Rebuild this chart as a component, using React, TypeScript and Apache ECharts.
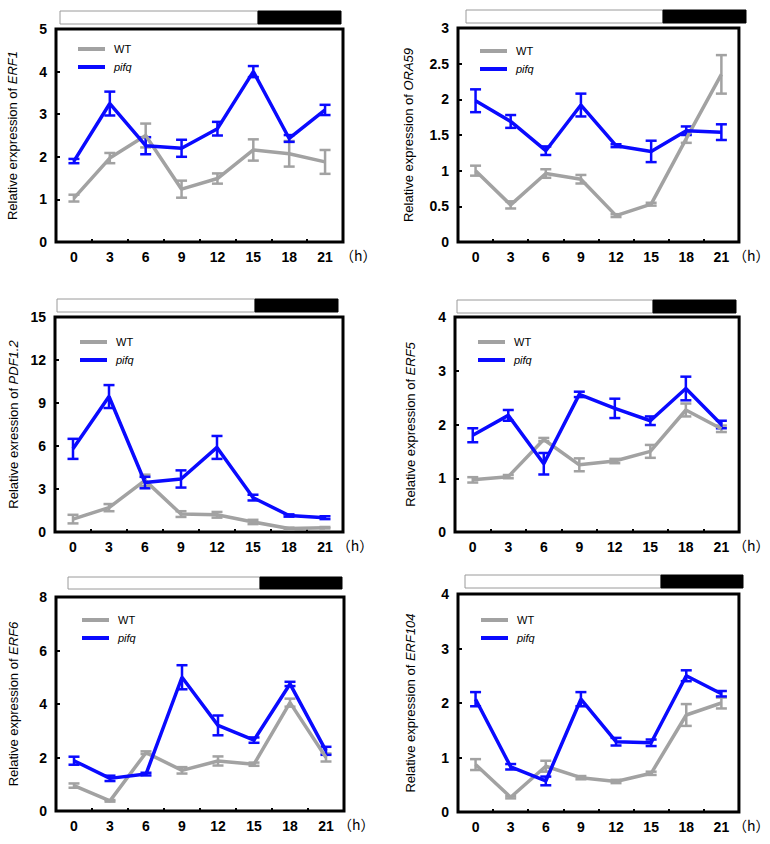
import React, { useEffect, useRef } from "react";
import * as echarts from "echarts";

const hours = ["0", "3", "6", "9", "12", "15", "18", "21"];

// ERF1
const erf1WT = [1.03, 1.97, 2.5, 1.24, 1.49, 2.16, 2.07, 1.88];
const erf1WTErr = [0.08, 0.12, 0.28, 0.2, 0.12, 0.25, 0.3, 0.28];
const erf1Pifq = [1.9, 3.25, 2.26, 2.2, 2.66, 4.0, 2.43, 3.1];
const erf1PifqErr = [0.05, 0.28, 0.2, 0.2, 0.16, 0.13, 0.08, 0.12];

// ORA59
const ora59WT = [1.0, 0.52, 0.96, 0.88, 0.37, 0.53, 1.45, 2.35];
const ora59WTErr = [0.07, 0.05, 0.06, 0.06, 0.02, 0.02, 0.06, 0.27];
const ora59Pifq = [1.98, 1.69, 1.28, 1.92, 1.35, 1.27, 1.56, 1.54];
const ora59PifqErr = [0.16, 0.09, 0.06, 0.16, 0.02, 0.15, 0.06, 0.11];

// PDF1.2
const pdfWT = [0.9, 1.7, 3.6, 1.25, 1.2, 0.7, 0.25, 0.3];
const pdfWTErr = [0.3, 0.25, 0.4, 0.2, 0.2, 0.15, 0.05, 0.05];
const pdfPifq = [5.8, 9.45, 3.45, 3.7, 5.9, 2.4, 1.15, 1.0];
const pdfPifqErr = [0.7, 0.8, 0.4, 0.6, 0.8, 0.2, 0.08, 0.1];

// ERF5
const erf5WT = [0.97, 1.03, 1.72, 1.25, 1.32, 1.5, 2.27, 1.92];
const erf5WTErr = [0.05, 0.03, 0.03, 0.12, 0.04, 0.12, 0.12, 0.06];
const erf5Pifq = [1.8, 2.17, 1.27, 2.56, 2.3, 2.07, 2.67, 2.0];
const erf5PifqErr = [0.13, 0.1, 0.2, 0.05, 0.18, 0.08, 0.22, 0.07];

// ERF6
const erf6WT = [0.95, 0.38, 2.18, 1.52, 1.87, 1.75, 4.05, 2.0];
const erf6WTErr = [0.08, 0.03, 0.05, 0.12, 0.17, 0.06, 0.15, 0.15];
const erf6Pifq = [1.88, 1.22, 1.38, 5.0, 3.2, 2.65, 4.75, 2.25];
const erf6PifqErr = [0.15, 0.1, 0.05, 0.45, 0.37, 0.1, 0.08, 0.15];

// ERF104
const erf104WT = [0.87, 0.27, 0.84, 0.63, 0.56, 0.71, 1.78, 2.0];
const erf104WTErr = [0.1, 0.02, 0.1, 0.03, 0.03, 0.03, 0.2, 0.1];
const erf104Pifq = [2.07, 0.83, 0.57, 2.07, 1.29, 1.27, 2.5, 2.17];
const erf104PifqErr = [0.13, 0.05, 0.08, 0.13, 0.07, 0.06, 0.1, 0.05];

const yTitles = [
  "Relative erxpression of {i|ERF1}",
  "Relative expression of {i|ORA59}",
  "Relative exression of {i|PDF1.2}",
  "Relative expression of {i|ERF5}",
  "Relative expression of {i|ERF6}",
  "Relative expression of {i|ERF104}",
];
const yMax = [5, 3, 15, 4, 8, 4];
const yInterval = [1, 0.5, 3, 1, 2, 1];

const panelsData = [
  [erf1WT, erf1WTErr, erf1Pifq, erf1PifqErr],
  [ora59WT, ora59WTErr, ora59Pifq, ora59PifqErr],
  [pdfWT, pdfWTErr, pdfPifq, pdfPifqErr],
  [erf5WT, erf5WTErr, erf5Pifq, erf5PifqErr],
  [erf6WT, erf6WTErr, erf6Pifq, erf6PifqErr],
  [erf104WT, erf104WTErr, erf104Pifq, erf104PifqErr],
];

// layout (pixels)
const grids = [
  { left: 56, top: 29, width: 287, height: 213 },
  { left: 458, top: 28, width: 290, height: 214 },
  { left: 55, top: 317, width: 288, height: 215 },
  { left: 455, top: 317, width: 293, height: 215 },
  { left: 56, top: 597, width: 288, height: 214 },
  { left: 458, top: 594, width: 290, height: 218 },
];
const nameGaps = [37, 43, 35, 38, 36, 41];
const hGaps = [-3, -20, -7, -20, -6, -18];
const legendPos = [
  { left: 73, top: 38 },
  { left: 475, top: 40 },
  { left: 75, top: 331 },
  { left: 473, top: 331 },
  { left: 77, top: 609 },
  { left: 476, top: 609 },
];
const bars = [
  { x0: 60, xm: 258, x1: 341, y: 11, h: 13 },
  { x0: 466, xm: 663, x1: 746, y: 10, h: 13 },
  { x0: 57, xm: 255, x1: 338, y: 299, h: 13 },
  { x0: 457, xm: 653, x1: 736, y: 300, h: 13 },
  { x0: 68, xm: 260, x1: 342, y: 577, h: 12 },
  { x0: 465, xm: 661, x1: 743, y: 575, h: 13 },
];

const GRAY = "#a2a2a2";
const BLUE = "#0a0aff";
const FONT = "Liberation Sans, Arial, sans-serif";
const CJK = "Noto Sans CJK SC, sans-serif";

function errSeries(idx: number, name: string, color: string, means: number[], errs: number[]) {
  return {
    type: "custom",
    name,
    xAxisIndex: idx,
    yAxisIndex: idx,
    silent: true,
    encode: { x: 0, y: 1 },
    data: means.map((m, i) => [i, m, errs[i]]),
    renderItem: (params: any, api: any) => {
      const i = api.value(0);
      const m = api.value(1);
      const e = api.value(2);
      const top = api.coord([i, m + e]);
      const bot = api.coord([i, m - e]);
      const w = 5.5;
      const st = { stroke: color, lineWidth: 2.5 };
      return {
        type: "group",
        children: [
          { type: "line", shape: { x1: top[0], y1: top[1], x2: bot[0], y2: bot[1] }, style: st },
          { type: "line", shape: { x1: top[0] - w, y1: top[1], x2: top[0] + w, y2: top[1] }, style: st },
          { type: "line", shape: { x1: bot[0] - w, y1: bot[1], x2: bot[0] + w, y2: bot[1] }, style: st },
        ],
      };
    },
  };
}

export default function App() {
  const ref = useRef<HTMLDivElement>(null);
  useEffect(() => {
    if (!ref.current) return;
    const chart = echarts.init(ref.current, null, { renderer: "svg" });

    const grid: any[] = [];
    const xAxis: any[] = [];
    const yAxis: any[] = [];
    const series: any[] = [];
    const legend: any[] = [];
    const graphic: any[] = [];

    panelsData.forEach((pd, idx) => {
      const g = grids[idx];
      grid.push({
        ...g,
        show: true,
        borderColor: "#000",
        borderWidth: 3,
        backgroundColor: "transparent",
        containLabel: false,
      });
      xAxis.push({
        type: "category",
        gridIndex: idx,
        data: hours,
        boundaryGap: true,
        axisLine: { show: false },
        axisTick: { show: true, inside: true, length: 3, lineStyle: { color: "#000", width: 2 } },
        axisLabel: { color: "#000", fontSize: 14, fontWeight: "bold", fontFamily: FONT, margin: 8 },
        splitLine: { show: false },
        name: "（h）",
        nameLocation: "end",
        nameGap: hGaps[idx],
        nameTextStyle: {
          color: "#000",
          fontSize: 14,
          fontFamily: CJK,
          verticalAlign: "top",
          padding: [6, 0, 0, 0],
        },
      });
      yAxis.push({
        type: "value",
        gridIndex: idx,
        min: 0,
        max: yMax[idx],
        interval: yInterval[idx],
        axisLine: { show: false },
        axisTick: { show: true, inside: true, length: 4, lineStyle: { color: "#000", width: 2 } },
        axisLabel: { color: "#000", fontSize: 14, fontWeight: "bold", fontFamily: FONT, margin: 9 },
        splitLine: { show: false },
        name: yTitles[idx],
        nameLocation: "middle",
        nameGap: nameGaps[idx],
        nameTextStyle: {
          color: "#000",
          fontSize: 13,
          fontFamily: FONT,
          rich: { i: { fontStyle: "italic", fontSize: 13, fontFamily: FONT, color: "#000" } },
        },
      });
      const [wt, wtErr, pq, pqErr] = pd;
      series.push({
        type: "line",
        name: "WT",
        xAxisIndex: idx,
        yAxisIndex: idx,
        data: wt,
        symbol: "none",
        color: GRAY,
        itemStyle: { color: GRAY },
        lineStyle: { color: GRAY, width: 3.5 },
      });
      series.push(errSeries(idx, "WT-err", GRAY, wt, wtErr));
      series.push({
        type: "line",
        name: "pifq",
        xAxisIndex: idx,
        yAxisIndex: idx,
        data: pq,
        symbol: "none",
        color: BLUE,
        itemStyle: { color: BLUE },
        lineStyle: { color: BLUE, width: 3.5 },
      });
      series.push(errSeries(idx, "pifq-err", BLUE, pq, pqErr));

      legend.push({
        ...legendPos[idx],
        orient: "vertical",
        icon: "rect",
        itemWidth: 27,
        itemHeight: 4,
        itemGap: 6,
        selectedMode: false,
        textStyle: { fontSize: 11, fontFamily: FONT, color: "#000", lineHeight: 12, padding: [0, 0, 0, 4] },
        data: [
          { name: "WT" },
          { name: "pifq", textStyle: { fontStyle: "italic" } },
        ],
      });

      const b = bars[idx];
      graphic.push({
        type: "rect",
        shape: { x: b.x0, y: b.y, width: b.xm - b.x0, height: b.h },
        style: { fill: "#fff", stroke: "#9a9a9a", lineWidth: 1 },
      });
      graphic.push({
        type: "rect",
        shape: { x: b.xm, y: b.y, width: b.x1 - b.xm, height: b.h },
        style: { fill: "#000", stroke: "#000", lineWidth: 1 },
      });
    });

    chart.setOption({
      animation: false,
      backgroundColor: "#fff",
      grid,
      xAxis,
      yAxis,
      series,
      legend,
      graphic,
    });
    return () => chart.dispose();
  }, []);
  return (
    <div
      ref={ref}
      style={{ position: "absolute", left: 0, top: 0, width: 770, height: 844, background: "#fff" }}
    />
  );
}
